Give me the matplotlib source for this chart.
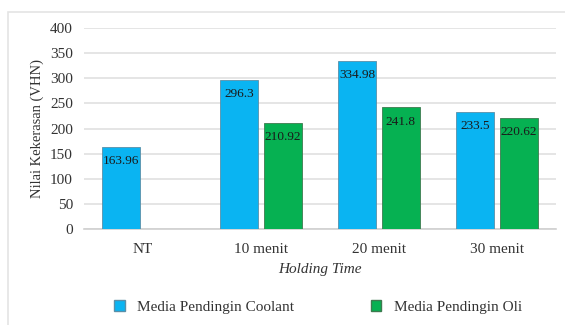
import matplotlib
matplotlib.use("Agg")
import matplotlib.pyplot as plt
from matplotlib.patches import Rectangle, Patch
import numpy as np

categories = ["NT", "10 menit", "20 menit", "30 menit"]
coolant = [163.96, 296.3, 334.98, 233.5]
oli = [None, 210.92, 241.8, 220.62]
coolant_labels = ["163.96", "296.3", "334.98", "233.5"]
oli_labels = [None, "210.92", "241.8", "220.62"]
yticks = [0, 50, 100, 150, 200, 250, 300, 350, 400]

plt.rcParams['font.family'] = ['Liberation Serif', 'DejaVu Serif']

W, H = 565, 325
fig = plt.figure(figsize=(W / 100, H / 100), dpi=100)
fig.patches.append(Rectangle((8 / W, -0.1), 1.2, (H - 12) / H + 0.1, transform=fig.transFigure,
                             fill=False, edgecolor='#e4e4e4', linewidth=1.2))

ax = fig.add_axes([84 / W, 1 - 229 / H, (556 - 84) / W, (229 - 28) / H])

c_blue = '#0AB4F2'
c_green = '#06B152'
x = np.arange(len(categories))
bw = 0.32
gap = 0.025
txtc = '#333333'

for i in range(len(categories)):
    xc = x[i] - bw / 2 - gap
    ax.bar(xc, coolant[i], width=bw, color=c_blue, edgecolor='#5a8fa8', linewidth=0.6, zorder=3)
    ax.annotate(coolant_labels[i], (xc, coolant[i]), xytext=(0, -6), textcoords='offset points',
                ha='center', va='top', fontsize=9.5, color='#1a1a1a', zorder=4)
    if oli[i] is not None:
        xo = x[i] + bw / 2 + gap
        ax.bar(xo, oli[i], width=bw, color=c_green, edgecolor='#3d7a4f', linewidth=0.6, zorder=3)
        ax.annotate(oli_labels[i], (xo, oli[i]), xytext=(0, -6), textcoords='offset points',
                    ha='center', va='top', fontsize=9.5, color='#1a1a1a', zorder=4)

ax.set_xlim(-0.5, len(categories) - 0.5)
ax.set_ylim(0, 400)
ax.set_yticks(yticks)
ax.set_xticks(x)
ax.set_xticklabels(categories)
ax.tick_params(axis='both', length=0, labelsize=11, colors=txtc)
ax.tick_params(axis='x', pad=10)
ax.tick_params(axis='y', pad=8)
ax.grid(axis='y', color='#e0e0e0', linewidth=1.2, zorder=0)
for s in ['top', 'right', 'left']:
    ax.spines[s].set_visible(False)
ax.spines['bottom'].set_color('#d0d0d0')
ax.spines['bottom'].set_linewidth(1.2)

ax.set_ylabel("Nilai Kekerasan (VHN)", fontsize=10.5, color=txtc, labelpad=4)
ax.set_xlabel("Holding Time", fontsize=11, style='italic', color=txtc, labelpad=5)

handles = [Patch(facecolor=c_blue, edgecolor='#5a8fa8', label='Media Pendingin Coolant'),
           Patch(facecolor=c_green, edgecolor='#3d7a4f', label='Media Pendingin Oli')]
fig.legend(handles=handles, loc='center', bbox_to_anchor=(318 / W, 1 - 307 / H), ncol=2,
           frameon=False, fontsize=11, handlelength=0.7, handleheight=0.7, columnspacing=5.0,
           handletextpad=0.8, labelcolor=txtc)

fig.savefig("out.png", dpi=100)
